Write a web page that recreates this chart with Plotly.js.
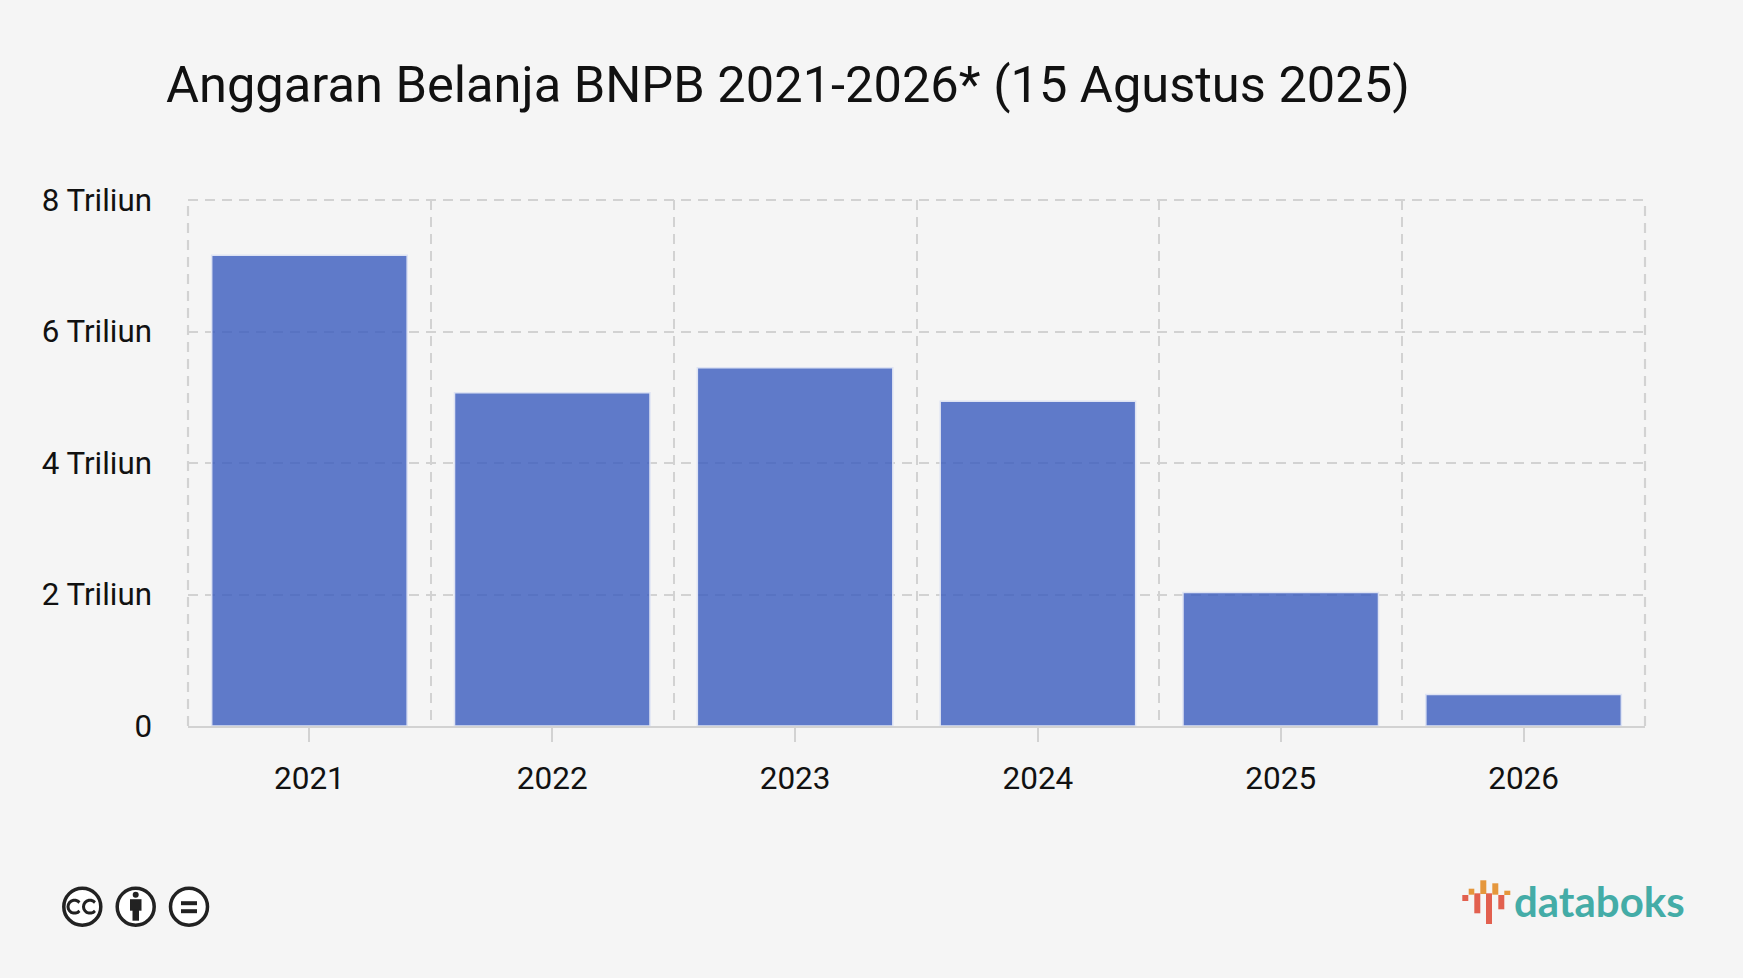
<!DOCTYPE html>
<html><head><meta charset="utf-8">
<script src="https://cdn.plot.ly/plotly-3.0.1.min.js"></script>
<style>html,body{margin:0;padding:0;background:#f5f5f5;overflow:hidden}#c{width:1743px;height:978px}</style>
</head><body><div id="c"></div>
<script>
const chartTitle = 'Anggaran Belanja BNPB 2021-2026* (15 Agustus 2025)';
const years = [2021, 2022, 2023, 2024, 2025, 2026];
const budgetTrillion = [7.16, 5.07, 5.45, 4.94, 2.03, 0.48];
const yTickVals = [0, 2, 4, 6, 8];
const yTickText = ['0', '2 Triliun', '4 Triliun', '6 Triliun', '8 Triliun'];

const W = 1743, H = 978, L = 188, R = 98, T = 200, B = 252;
const px = x => (x - L) / (W - L - R);
const py = y => 1 - (y - T) / (H - T - B);
const GRID = '#d2d2d2';
const DASH = '10px,7px';

function rectShape(x0, y0, x1, y1, color) {
  return {type:'rect', xref:'paper', yref:'paper', x0:px(x0), x1:px(x1), y0:py(y0), y1:py(y1),
          fillcolor:color, line:{width:0}, layer:'above'};
}
function circleShape(cx, cy, r, lw, color, fill) {
  return {type:'circle', xref:'paper', yref:'paper', x0:px(cx-r), x1:px(cx+r), y0:py(cy-r), y1:py(cy+r),
          line:{color:color, width:lw}, fillcolor:fill || 'rgba(0,0,0,0)', layer:'above'};
}
function pathShape(points, lw, color, fill) {
  const d = points.map((p,i)=>(i? 'L':'M')+px(p[0])+' '+py(p[1])).join(' ');
  return {type:'path', xref:'paper', yref:'paper', path:d,
          line:{color:color, width:lw}, fillcolor:fill || 'rgba(0,0,0,0)', layer:'above'};
}
function arcC(cx, cy, r) {
  const pts = [];
  for (let a = 40; a <= 320; a += 20) {
    const t = a * Math.PI / 180;
    pts.push([cx + r * Math.cos(t), cy - r * Math.sin(t)]);
  }
  return pts;
}
const INK = '#222222';
const iconY = 906.7;
const icons = [
  circleShape(82.3, iconY, 18.5, 3.5, INK, '#ffffff'),
  pathShape(arcC(74.5, iconY, 6.5), 3, INK),
  pathShape(arcC(90, iconY, 6.5), 3, INK),
  circleShape(135.7, iconY, 18.5, 3.5, INK, '#ffffff'),
  circleShape(135.7, iconY-12, 3, 0, INK, INK),
  rectShape(130, iconY-7.5, 141.5, iconY+4, INK),
  rectShape(132.5, iconY+3, 139, iconY+14, INK),
  circleShape(189, iconY, 18.5, 3.5, INK, '#ffffff'),
  rectShape(181, iconY-5.5, 197, iconY-1.5, INK),
  rectShape(181, iconY+2.5, 197, iconY+6.5, INK)
];
const RED = '#e2604f', ORG = '#e5973d';
const logo = [
  rectShape(1462.3, 895, 1468.3, 901, RED),
  rectShape(1474.3, 893.3, 1480.3, 913.3, RED),
  rectShape(1486, 893.3, 1492, 924, RED),
  rectShape(1498.3, 895, 1504.3, 909.3, RED),
  rectShape(1468.7, 888.7, 1474.3, 894.7, ORG),
  rectShape(1480.3, 880.3, 1486.3, 894, ORG),
  rectShape(1492.3, 883.3, 1498.3, 894.7, ORG),
  rectShape(1504.3, 890.7, 1510.3, 895, ORG)
];

const trace = {
  type:'bar', x:years, y:budgetTrillion, width:0.805,
  marker:{color:'rgba(57,91,190,0.8)', line:{color:'rgba(222,227,243,1)', width:1.5}},
  hoverinfo:'x+y'
};
const frameLine = {color:GRID, width:2.2, dash:DASH};
const layout = {
  width:W, height:H, paper_bgcolor:'#f5f5f5', plot_bgcolor:'#f5f5f5',
  margin:{l:L, r:R, t:T, b:B, pad:0}, showlegend:false, bargap:0.195,
  font:{family:'Roboto, sans-serif', color:'#111111', size:31},
  title:{text:chartTitle, font:{family:'Roboto, sans-serif', size:50.6, color:'#111111'},
         x:166/W, xanchor:'left', xref:'container', y:1-84/H, yanchor:'middle', automargin:false},
  xaxis:{type:'linear', range:[2020.5, 2026.5], tickmode:'array', tickvals:years, ticktext:years.map(String),
         ticks:'outside', ticklen:14, tickwidth:2, tickcolor:GRID, showgrid:false, zeroline:false,
         showline:true, linecolor:GRID, linewidth:2.2, ticklabelstandoff:9,
         tickfont:{family:'Roboto, sans-serif', size:31.5, color:'#111111'},
         minor:{tick0:2020.5, dtick:1, showgrid:true, gridcolor:GRID, gridwidth:2.2, griddash:DASH, ticks:''}},
  yaxis:{range:[0, 8], tickmode:'array', tickvals:yTickVals, ticktext:yTickText, ticks:'',
         showgrid:true, gridcolor:GRID, gridwidth:2.2, griddash:DASH, zeroline:false, showline:false,
         ticklabelstandoff:35, tickfont:{family:'Roboto, sans-serif', size:31.3, color:'#111111'}},
  shapes:[
    {type:'line', xref:'paper', yref:'paper', x0:0, x1:1, y0:1, y1:1, layer:'below', line:frameLine},
    {type:'line', xref:'paper', yref:'paper', x0:0, x1:0, y0:0, y1:1, layer:'below', line:frameLine},
    {type:'line', xref:'paper', yref:'paper', x0:1, x1:1, y0:0, y1:1, layer:'below', line:frameLine}
  ].concat(icons, logo),
  annotations:[{
    text:'databoks', xref:'paper', yref:'paper', x:px(1512), y:py(901), xanchor:'left', yanchor:'middle', showarrow:false,
    font:{family:'Lato, sans-serif', size:42, color:'#44aca7', weight:700}
  }]
};
Plotly.newPlot('c', [trace], layout, {displayModeBar:false, responsive:false});
</script></body></html>
